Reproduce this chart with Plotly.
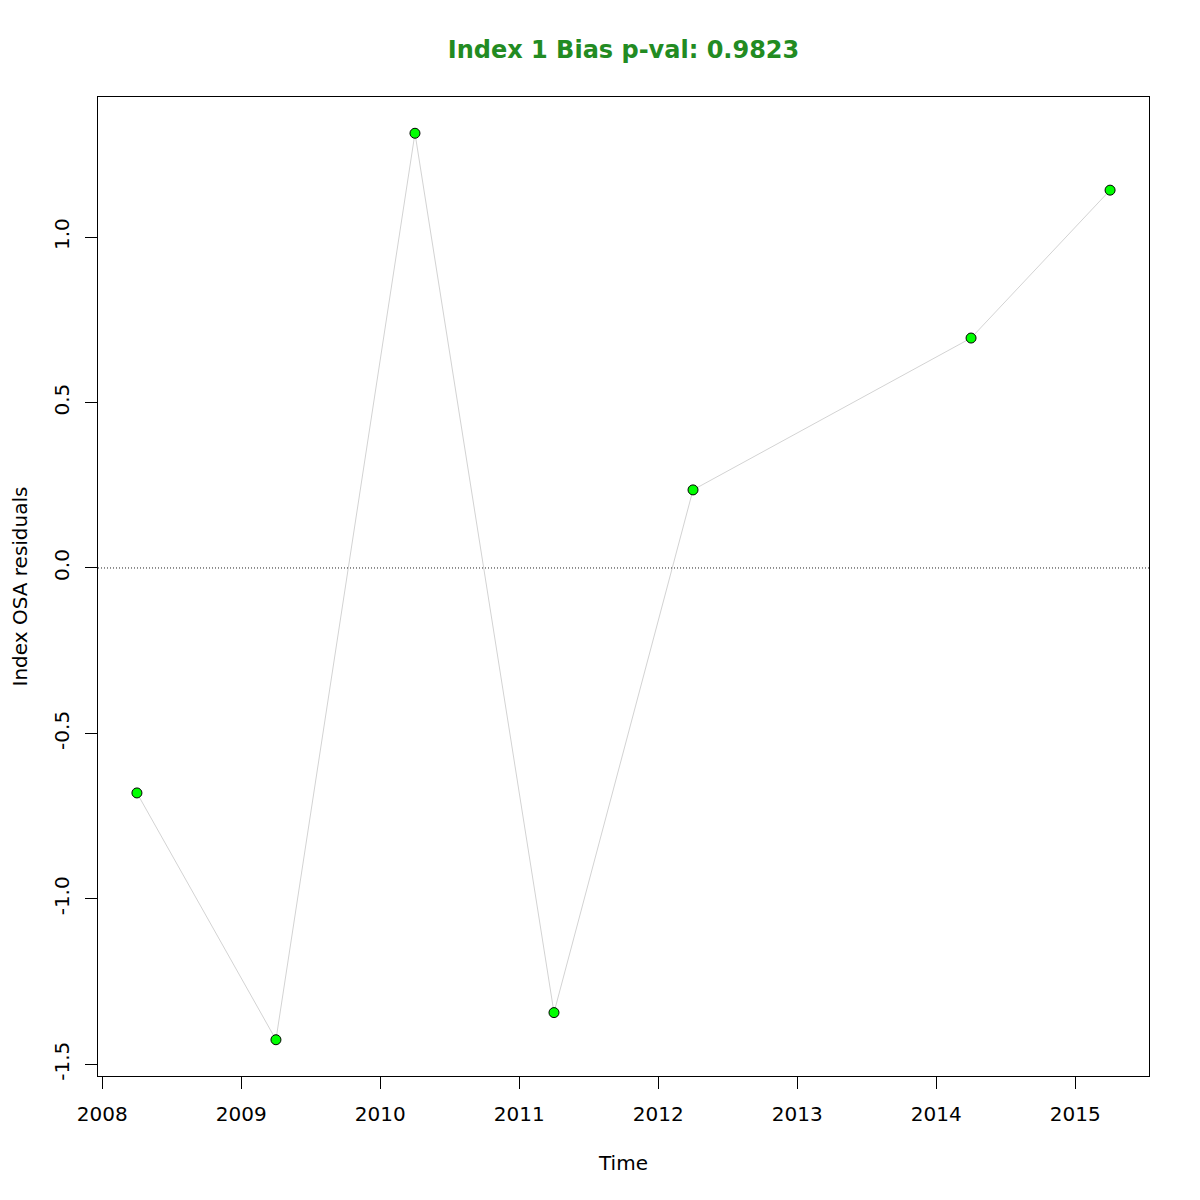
import plotly.graph_objects as go

years = [2008.25, 2009.25, 2010.25, 2011.25, 2012.25, 2014.25, 2015.25]
residuals = [-0.680, -1.426, 1.314, -1.344, 0.236, 0.695, 1.142]
x_ticks = [2008, 2009, 2010, 2011, 2012, 2013, 2014, 2015]
y_ticks = [-1.5, -1.0, -0.5, 0.0, 0.5, 1.0]
y_tick_labels = ["-1.5", "-1.0", "-0.5", "0.0", "0.5", "1.0"]
title_text = "Index 1 Bias p-val: 0.9823"

FONT = "DejaVu Sans"

xr = max(years) - min(years)
yr = max(residuals) - min(residuals)
x_range = [min(years) - 0.04 * xr, max(years) + 0.04 * xr]
y_range = [min(residuals) - 0.04 * yr, max(residuals) + 0.04 * yr]

fig = go.Figure()
fig.add_trace(go.Scatter(
    x=years, y=residuals, mode="lines",
    line=dict(color="#D3D3D3", width=1),
    hoverinfo="skip", showlegend=False))
fig.add_trace(go.Scatter(
    x=years, y=residuals, mode="markers",
    marker=dict(color="#00FF00", size=10, line=dict(color="black", width=1)),
    showlegend=False))

fig.add_hline(y=0, line=dict(color="#222222", width=1, dash="1px,2px"))

fig.update_layout(
    width=1200, height=1200,
    paper_bgcolor="white", plot_bgcolor="white",
    margin=dict(l=90, r=59, t=89, b=132, autoexpand=False),
    font=dict(family=FONT, size=20, color="black"),
    title=dict(text="<b>" + title_text + "</b>", x=0.5,
               xanchor="center", xref="paper",
               y=1 - 42 / 1200, yanchor="middle",
               font=dict(family=FONT, size=24, color="#228B22")),
    xaxis=dict(
        range=x_range, tickvals=x_ticks, ticktext=[str(v) for v in x_ticks],
        showgrid=False, zeroline=False, automargin=False,
        showline=True, linecolor="black", linewidth=1, mirror=True,
        ticks="outside", ticklen=12, tickcolor="black", tickwidth=1,
        ticklabelstandoff=8,
        title=dict(text="Time", standoff=30, font=dict(size=20)),
    ),
    yaxis=dict(
        range=y_range, tickvals=y_ticks, ticktext=y_tick_labels,
        tickangle=-90,
        showgrid=False, zeroline=False, automargin=False,
        showline=True, linecolor="black", linewidth=1, mirror=True,
        ticks="outside", ticklen=12, tickcolor="black", tickwidth=1,
        ticklabelstandoff=8,
        title=dict(text="Index OSA residuals", standoff=21, font=dict(size=20)),
    ),
)

fig.write_html("out.html")
